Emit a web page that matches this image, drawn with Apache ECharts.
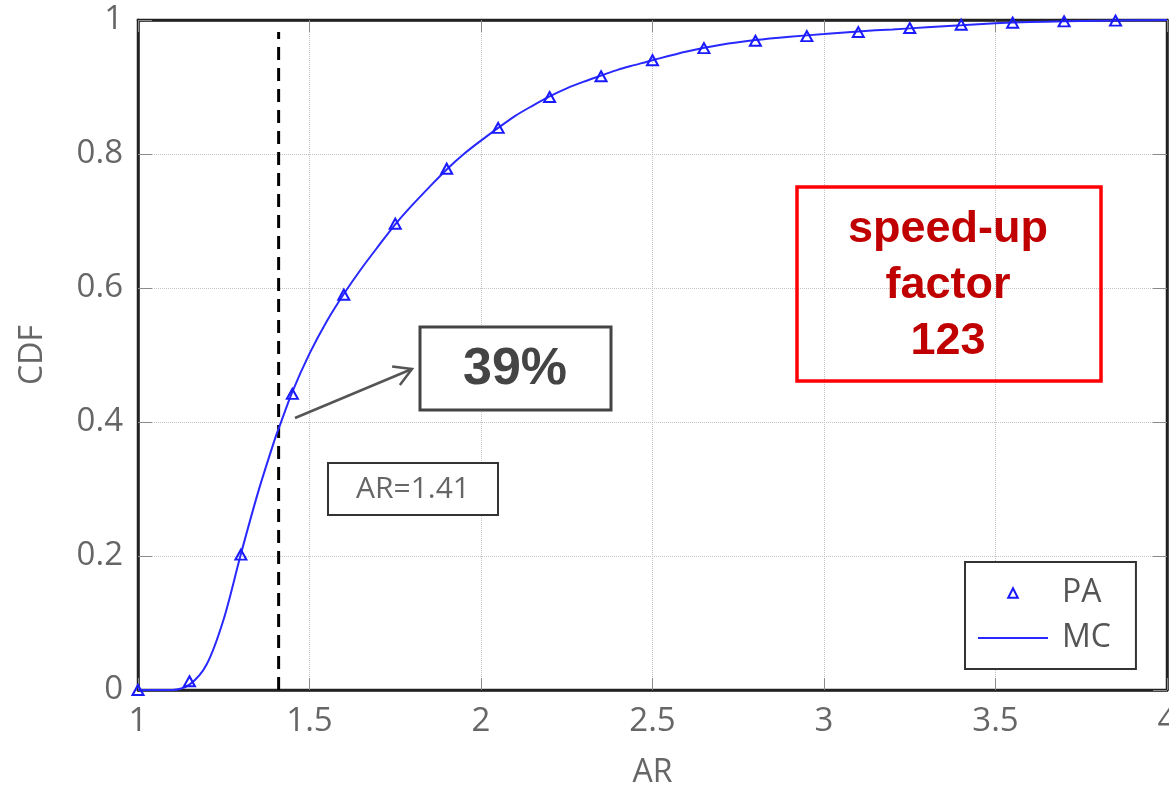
<!DOCTYPE html>
<html>
<head>
<meta charset="utf-8">
<script src="https://cdn.jsdelivr.net/npm/echarts@6/dist/echarts.min.js"></script>
<style>
  html, body { margin: 0; padding: 0; background: #fff; }
  #chart { width: 1169px; height: 789px; }
</style>
</head>
<body>
<div id="chart"></div>
<script>
// PA: analytical CDF points (triangles)
const paX = [1.00, 1.15, 1.30, 1.45, 1.60, 1.75, 1.90, 2.05, 2.20, 2.35,
             2.50, 2.65, 2.80, 2.95, 3.10, 3.25, 3.40, 3.55, 3.70, 3.85];
const paY = [0.000, 0.013, 0.202, 0.442, 0.590, 0.696, 0.778, 0.839, 0.885, 0.916,
             0.940, 0.958, 0.969, 0.976, 0.982, 0.988, 0.993, 0.996, 0.998, 0.999];

// MC: Monte Carlo CDF curve
const mcX = [1.00, 1.05, 1.10, 1.15, 1.20, 1.25, 1.30, 1.35, 1.40, 1.41,
             1.45, 1.50, 1.55, 1.60, 1.65, 1.70, 1.75, 1.80, 1.85, 1.90,
             1.95, 2.00, 2.05, 2.10, 2.15, 2.20, 2.25, 2.30, 2.35, 2.40,
             2.45, 2.50, 2.60, 2.70, 2.80, 2.90, 3.00, 3.10, 3.20, 3.30,
             3.40, 3.50, 3.60, 3.70, 3.80, 3.90, 4.00];
const mcY = [0.000, 0.000, 0.000, 0.008, 0.038, 0.106, 0.203, 0.295, 0.376, 0.390,
             0.445, 0.502, 0.550, 0.591, 0.628, 0.662, 0.695, 0.724, 0.751, 0.777,
             0.800, 0.820, 0.839, 0.857, 0.872, 0.886, 0.898, 0.908, 0.917, 0.926,
             0.933, 0.940, 0.953, 0.963, 0.970, 0.975, 0.979, 0.983, 0.986, 0.989,
             0.992, 0.995, 0.997, 0.998, 0.999, 0.9995, 1.000];

// threshold marker
const arThreshold = 1.41;
const cdfAtThreshold = 0.39;
const thresholdTop = 0.982;
const speedUpFactor = 123;

const labelFont = '"Open Sans", "DejaVu Sans", sans-serif';
const boldFont = '"Liberation Sans", Arial, sans-serif';

const chart = echarts.init(document.getElementById('chart'), null, { renderer: 'canvas' });

const frameColor = '#222';
const blue = '#2828ff';
const tickStyle = { color: '#8a8a8a', width: 1 };
const gridLine = { show: true, lineStyle: { type: 'dotted', color: '#c4c4c4', width: 1 } };

// arrow from the curve to the percentage box
const arrowFrom = [295, 418];
const arrowTo = [412, 369];
function arrowHead(from, to, len, ang) {
  const dx = from[0] - to[0], dy = from[1] - to[1];
  const n = Math.hypot(dx, dy);
  const ux = dx / n, uy = dy / n;
  const c = Math.cos(ang), s = Math.sin(ang);
  const p1 = [to[0] + len * (ux * c - uy * s), to[1] + len * (ux * s + uy * c)];
  const p2 = [to[0] + len * (ux * c + uy * s), to[1] + len * (-ux * s + uy * c)];
  return [p1, to, p2];
}

const option = {
  animation: false,
  backgroundColor: '#fff',
  grid: {
    left: 138, right: 2, top: 20, bottom: 99,
    containLabel: false, outerBoundsMode: 'none',
    show: true, borderColor: frameColor, borderWidth: 2.5, backgroundColor: '#fff'
  },
  xAxis: [{
    type: 'value', min: 1, max: 4, interval: 0.5,
    axisLine: { show: true, onZero: false, lineStyle: { color: frameColor, width: 2.5 } },
    axisTick: { show: true, inside: true, length: 12, lineStyle: tickStyle },
    axisLabel: { fontFamily: labelFont, fontSize: 33, color: '#666', margin: 15 },
    splitLine: gridLine,
    name: 'AR', nameLocation: 'middle', nameGap: 67,
    nameTextStyle: { fontFamily: labelFont, fontSize: 32, color: '#666' }
  }, {
    type: 'value', min: 1, max: 4, interval: 0.5, position: 'top',
    axisLine: { show: true, onZero: false, lineStyle: { color: frameColor, width: 2.5 } },
    axisTick: { show: true, inside: true, length: 12, lineStyle: tickStyle },
    axisLabel: { show: false }, splitLine: { show: false }
  }],
  yAxis: [{
    type: 'value', min: 0, max: 1, interval: 0.2,
    axisLine: { show: true, onZero: false, lineStyle: { color: frameColor, width: 2.5 } },
    axisTick: { show: true, inside: true, length: 14, lineStyle: tickStyle },
    axisLabel: { fontFamily: labelFont, fontSize: 33, color: '#666', margin: 15 },
    splitLine: gridLine,
    name: 'CDF', nameLocation: 'middle', nameGap: 89,
    nameTextStyle: { fontFamily: labelFont, fontSize: 32, color: '#666' }
  }, {
    type: 'value', min: 0, max: 1, interval: 0.2, position: 'right',
    axisLine: { show: true, onZero: false, lineStyle: { color: frameColor, width: 2.5 } },
    axisTick: { show: true, inside: true, length: 14, lineStyle: tickStyle },
    axisLabel: { show: false }, splitLine: { show: false }
  }],
  legend: {
    data: [
      { name: 'PA' },
      { name: 'MC', icon: 'path://M0,0L70,0L70,2L0,2Z',
        itemStyle: { color: blue, borderWidth: 0 } }
    ],
    orient: 'vertical', left: 965, top: 562,
    itemWidth: 70, itemHeight: 12, itemGap: 9,
    padding: [13, 25, 13, 13],
    borderColor: '#333', borderWidth: 2, backgroundColor: '#fff',
    textStyle: { fontFamily: labelFont, fontSize: 32, color: '#555', lineHeight: 36, padding: [0, 0, 0, 9] }
  },
  series: [{
    name: 'threshold', type: 'line',
    data: [[arThreshold, 0], [arThreshold, thresholdTop]],
    symbol: 'none', silent: true,
    lineStyle: { color: '#000', width: 3, type: [13, 8] },
    z: 2
  }, {
    name: 'MC', type: 'line',
    data: mcX.map((x, i) => [x, mcY[i]]),
    symbol: 'none', smooth: 0.3,
    lineStyle: { color: blue, width: 2 },
    itemStyle: { color: blue },
    z: 3
  }, {
    // PA is drawn as markers only: the connecting line is switched off
    name: 'PA', type: 'line',
    data: paX.map((x, i) => [x, paY[i]]),
    symbol: 'triangle', symbolSize: [11, 10], showSymbol: true,
    lineStyle: { width: 0, opacity: 0 },
    itemStyle: { color: 'rgba(255,255,255,0)', borderColor: '#1a1aff', borderWidth: 2 },
    z: 4
  }],
  graphic: [
    // arrow
    { type: 'line', shape: { x1: arrowFrom[0], y1: arrowFrom[1], x2: arrowTo[0], y2: arrowTo[1] },
      style: { stroke: '#555', lineWidth: 2.5 }, z: 10 },
    { type: 'polyline', shape: { points: arrowHead(arrowFrom, arrowTo, 20, Math.PI / 6) },
      style: { stroke: '#555', lineWidth: 2.5, fill: null }, z: 10 },
    // percentage box
    { type: 'rect', shape: { x: 420, y: 327, width: 191, height: 83 },
      style: { fill: '#fff', stroke: '#444', lineWidth: 3 }, z: 10 },
    { type: 'text', x: 515, y: 370, z: 11,
      style: { text: Math.round(cdfAtThreshold * 100) + '%', font: 'bold 52px ' + boldFont,
               fill: '#444', align: 'center', verticalAlign: 'middle' } },
    // threshold box
    { type: 'rect', shape: { x: 328, y: 463, width: 170, height: 52 },
      style: { fill: '#fff', stroke: '#333', lineWidth: 2 }, z: 10 },
    { type: 'text', x: 413, y: 489, z: 11,
      style: { text: 'AR=' + arThreshold, font: '30px ' + labelFont,
               fill: '#666', align: 'center', verticalAlign: 'middle' } },
    // speed-up box
    { type: 'rect', shape: { x: 797, y: 187, width: 304, height: 194 },
      style: { fill: null, stroke: '#ff0000', lineWidth: 3.5 }, z: 10 },
    { type: 'text', x: 948, y: 286, z: 11,
      style: { text: 'speed-up\nfactor\n' + speedUpFactor, font: 'bold 45px ' + boldFont,
               lineHeight: 56, fill: '#c00000', align: 'center', verticalAlign: 'middle' } }
  ]
};

chart.setOption(option);
</script>
</body>
</html>
